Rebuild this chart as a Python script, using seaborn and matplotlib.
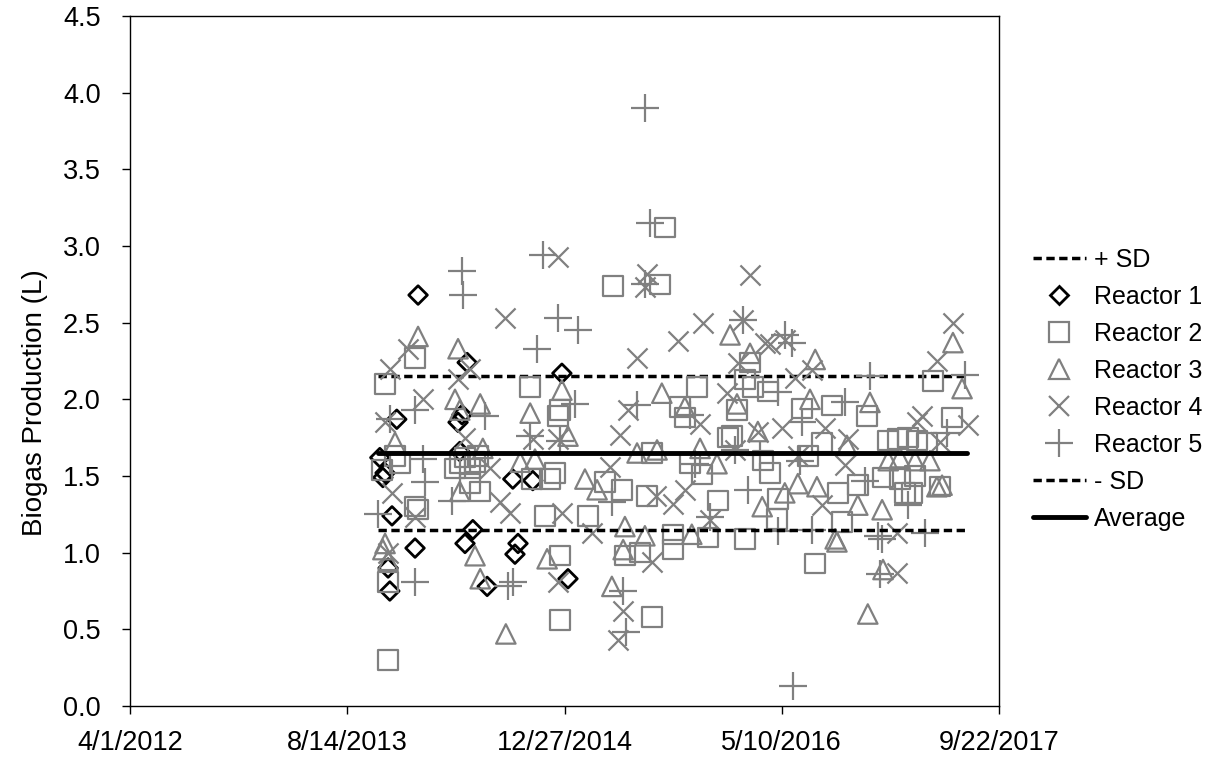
import numpy as np
import pandas as pd
import matplotlib
matplotlib.use("Agg")
import matplotlib.pyplot as plt
from matplotlib.lines import Line2D
import seaborn as sns

# ---------------- data ----------------
start_date = "2012-04-01"   # day counts below are days since this date

r1_day = [575, 582, 587, 594, 598, 603, 614, 656, 663, 755, 759, 764, 771, 776, 789,
          822, 881, 886, 893, 927, 994, 1008]
r1_val = [1.62, 1.49, 1.52, 0.90, 0.75, 1.24, 1.87, 1.03, 2.68, 1.85, 1.66, 1.90, 1.06, 2.24, 1.15,
          0.78, 1.48, 0.99, 1.06, 1.47, 2.17, 0.83]

r2_day = [594, 587, 656, 610, 580, 656, 663, 594, 621, 748, 759, 771, 783, 794, 801, 783, 806,
          921, 990, 985, 925, 967, 978, 955, 990, 990, 1112, 1220, 1231, 1201, 1093, 1132, 1054,
          1190, 1139, 1174, 1201, 1305, 1415, 1434, 1397, 1376, 1289, 1316, 1353, 1250, 1250,
          1330, 1415, 1457, 1386, 1468, 1547, 1616, 1593, 1473, 1560, 1675, 1491, 1629, 1489,
          1639, 1577, 1696, 1848, 1892, 1745, 1768, 1791, 1811, 1834, 1733, 1772, 1807, 1784,
          1800, 1864, 1266, 1277, 1427]
r2_val = [0.30, 2.10, 2.27, 1.63, 1.54, 1.30, 1.28, 0.81, 1.58, 1.55, 1.58, 1.62, 1.55, 1.59, 1.63, 1.45, 1.40,
          2.08, 1.93, 1.89, 1.48, 1.48, 1.52, 1.24, 0.98, 0.56, 2.74, 2.75, 3.12, 1.65, 1.46, 1.41, 1.24,
          1.37, 0.98, 1.00, 0.58, 2.08, 2.13, 2.08, 1.93, 1.75, 1.58, 1.51, 1.34, 1.12, 1.02,
          1.10, 1.09, 1.60, 1.76, 2.05, 1.94, 1.96, 1.72, 1.52, 1.63, 1.44, 1.35, 1.39, 1.22,
          1.20, 0.93, 1.89, 2.12, 1.88, 1.73, 1.74, 1.75, 1.73, 1.72, 1.49, 1.48, 1.50, 1.39,
          1.39, 1.43, 1.95, 1.88, 2.24]

r3_day = [663, 755, 610, 582, 594, 587, 748, 759, 806, 794, 806, 865, 921, 994, 898, 932, 960,
          1224, 1167, 1213, 1047, 1075, 1139, 1135, 1185, 1109, 1381, 1427, 1277, 1397, 1445,
          1312, 1351, 1455, 1293, 1577, 1565, 1650, 1537, 1581, 1507, 1675, 1627, 1623, 1698,
          1894, 1915, 1703, 1745, 1772, 1807, 1841, 1857, 1869, 1731, 1733, 1008, 759, 812]
r3_val = [2.41, 2.33, 1.72, 1.02, 0.95, 1.06, 2.00, 1.93, 1.97, 0.98, 0.83, 0.47, 1.91, 2.06, 1.59, 1.61, 0.96,
          2.04, 1.65, 1.67, 1.48, 1.41, 1.17, 1.02, 1.11, 0.78, 2.42, 2.30, 1.95, 1.97, 1.79,
          1.68, 1.58, 1.30, 1.12, 2.26, 2.00, 1.70, 1.45, 1.43, 1.39, 1.31, 1.07, 1.09, 0.60,
          2.37, 2.07, 1.98, 1.60, 1.62, 1.60, 1.60, 1.43, 1.44, 1.28, 0.89, 1.76, 1.40, 1.68]

r4_day = [640, 598, 674, 755, 587, 603, 656, 594, 783, 771, 863, 985, 927, 985, 875, 852, 994,
          985, 1190, 1185, 1167, 1146, 1105, 1063, 1211, 1201, 1135, 1123, 1261, 1319, 1427,
          1473, 1399, 1461, 1374, 1312, 1445, 1392, 1277, 1250, 1335, 1507, 1570, 1530, 1501,
          1600, 1652, 1537, 1646, 1593, 1765, 1894, 1857, 1929, 1823, 1811, 1864, 1765, 1128,
          829, 1411]
r4_val = [2.33, 2.20, 2.00, 2.13, 1.85, 1.39, 1.23, 1.00, 2.20, 1.75, 2.53, 2.93, 1.74, 1.74, 1.26, 1.33, 1.26,
          0.81, 2.82, 2.73, 2.27, 1.93, 1.56, 1.13, 1.37, 0.94, 0.62, 0.43, 2.38, 2.50, 2.81,
          2.36, 2.24, 2.37, 2.04, 1.84, 1.79, 1.67, 1.41, 1.32, 1.21, 2.39, 2.19, 2.14, 1.81,
          1.81, 1.74, 1.63, 1.57, 1.31, 1.13, 2.50, 2.25, 1.83, 1.89, 1.85, 1.72, 0.87, 1.77,
          1.55, 2.52]

r5_day = [764, 766, 656, 598, 674, 679, 571, 656, 741, 817, 951, 985, 937, 1031, 921, 990, 870,
          881, 1024, 1167, 1109, 1197, 1185, 1185, 1142, 1135, 1411, 1300, 1289, 1392, 1422,
          1335, 1507, 1524, 1703, 1491, 1547, 1646, 1491, 1570, 1526, 1731, 1726, 1922, 1880,
          1692, 1791, 1722, 1830, 1450, 1542]
r5_val = [2.84, 2.68, 1.93, 1.87, 1.61, 1.46, 1.25, 0.81, 1.34, 1.89, 2.94, 2.53, 2.33, 2.45, 1.76, 1.73, 0.78,
          0.81, 1.97, 1.96, 1.33, 3.15, 3.90, 2.75, 0.48, 0.75, 2.52, 1.58, 1.90, 1.67, 1.41,
          1.23, 2.42, 2.37, 2.15, 2.05, 1.85, 1.98, 1.14, 1.15, 0.13, 1.09, 0.86, 2.16, 1.78,
          1.47, 1.31, 1.11, 1.13, 1.64, 1.60]

line_days = [571, 1926]
plus_sd = 2.15
average = 1.65
minus_sd = 1.15

x_tick_labels = ["4/1/2012", "8/14/2013", "12/27/2014", "5/10/2016", "9/22/2017"]
y_ticks = [0.0, 0.5, 1.0, 1.5, 2.0, 2.5, 3.0, 3.5, 4.0, 4.5]
reactor_names = ["Reactor 1", "Reactor 2", "Reactor 3", "Reactor 4", "Reactor 5"]

# ---------------- build frame ----------------
base = pd.Timestamp(start_date)
days_all = [r1_day, r2_day, r3_day, r4_day, r5_day]
vals_all = [r1_val, r2_val, r3_val, r4_val, r5_val]
frames = []
for name, d, v in zip(reactor_names, days_all, vals_all):
    frames.append(pd.DataFrame({
        "date": base + pd.to_timedelta(np.array(d), unit="D"),
        "value": v,
        "reactor": name,
    }))
df = pd.concat(frames, ignore_index=True)

# ---------------- style ----------------
sns.set_theme(style="ticks")
plt.rcParams["font.family"] = ["Liberation Sans", "DejaVu Sans"]
plt.rcParams["axes.edgecolor"] = "black"
plt.rcParams["xtick.color"] = "black"
plt.rcParams["ytick.color"] = "black"
plt.rcParams["text.color"] = "black"
plt.rcParams["axes.labelcolor"] = "black"

GREY = "#808080"
FS_TICK = 19.5
FS_LABEL = 20
FS_LEG = 18

fig = plt.figure(figsize=(12.15, 7.61), dpi=100)
ax = fig.add_axes([130 / 1215, 1 - 706 / 761, 869 / 1215, 690 / 761])

styles = {
    "Reactor 1": dict(marker="D", s=90, facecolors="none", edgecolor="black", linewidth=2.0),
    "Reactor 2": dict(marker="s", s=196, facecolors="none", edgecolor=GREY, linewidth=1.6),
    "Reactor 3": dict(marker="^", s=196, facecolors="none", edgecolor=GREY, linewidth=1.6),
    "Reactor 4": dict(marker="x", s=210, color=GREY, linewidth=1.6),
    "Reactor 5": dict(marker="+", s=380, color=GREY, linewidth=1.6),
}

line_dates = base + pd.to_timedelta(np.array(line_days), unit="D")
dash = (2.4, 1.3)
ax.plot(line_dates, [plus_sd, plus_sd], color="black", lw=2.5, ls=(0, dash), zorder=1.5)

for i, name in enumerate(reactor_names):
    sub = df[df["reactor"] == name]
    sns.scatterplot(data=sub, x="date", y="value", ax=ax, legend=False,
                    zorder=2 + 0.1 * i, **styles[name])

ax.plot(line_dates, [minus_sd, minus_sd], color="black", lw=2.5, ls=(0, dash), zorder=3)
ax.plot(line_dates, [average, average], color="black", lw=3.5, zorder=3.1)

# ---------------- axes ----------------
tick_dates = [pd.Timestamp(pd.to_datetime(t, format="%m/%d/%Y")) for t in x_tick_labels]
ax.set_xlim(tick_dates[0], tick_dates[-1])
ax.set_xticks(tick_dates)
ax.set_xticklabels(x_tick_labels, fontsize=FS_TICK)
ax.set_ylim(0, 4.5)
ax.set_yticks(y_ticks)
ax.set_yticklabels([f"{t:.1f}" for t in y_ticks], fontsize=FS_TICK)
ax.tick_params(axis="both", direction="out", length=6, width=1.0, top=False, right=False)
ax.tick_params(axis="x", pad=11)
ax.tick_params(axis="y", pad=15)
for sp in ax.spines.values():
    sp.set_visible(True)
    sp.set_linewidth(1.0)
    sp.set_color("black")

ax.set_xlabel("")
ax.set_ylabel("Biogas Production (L)", fontsize=FS_LABEL)
ax.yaxis.set_label_coords(-0.094, 0.44)

# ---------------- legend ----------------
handles = [
    Line2D([], [], color="black", lw=2.5, ls=(0, dash)),
    Line2D([], [], ls="none", marker="D", markersize=9.5, markerfacecolor="none",
           markeredgecolor="black", markeredgewidth=2.0),
    Line2D([], [], ls="none", marker="s", markersize=14, markerfacecolor="none",
           markeredgecolor=GREY, markeredgewidth=1.6),
    Line2D([], [], ls="none", marker="^", markersize=14, markerfacecolor="none",
           markeredgecolor=GREY, markeredgewidth=1.6),
    Line2D([], [], ls="none", marker="x", markersize=14.5, color=GREY, markeredgewidth=1.6),
    Line2D([], [], ls="none", marker="+", markersize=19.5, color=GREY, markeredgewidth=1.6),
    Line2D([], [], color="black", lw=2.5, ls=(0, dash)),
    Line2D([], [], color="black", lw=3.5),
]
labels = ["+ SD"] + reactor_names + ["- SD", "Average"]
fig.legend(handles, labels, loc="upper left", bbox_to_anchor=(1033 / 1215, 1 - 248 / 761),
           frameon=False, fontsize=FS_LEG, borderpad=0, borderaxespad=0,
           handlelength=2.1, handletextpad=0.35, labelspacing=0.52)

fig.savefig("out.png", dpi=100)
